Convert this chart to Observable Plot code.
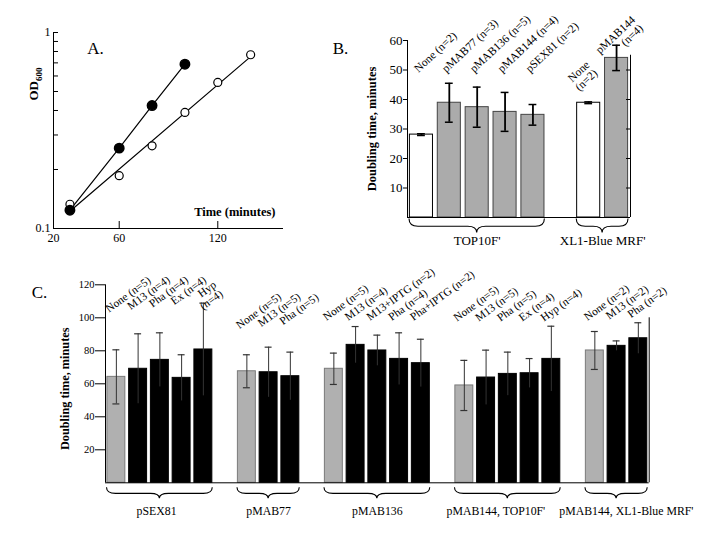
<!DOCTYPE html>
<html>
<head>
<meta charset="utf-8">
<script src="https://cdn.jsdelivr.net/npm/d3@7"></script>
<script src="https://cdn.jsdelivr.net/npm/@observablehq/plot@0.6"></script>
<style>
  html, body { margin: 0; padding: 0; background: #fff; }
  #fig { position: relative; width: 708px; height: 534px; overflow: hidden; background: #fff; }
  #fig svg { position: absolute; max-width: none; }
</style>
</head>
<body>
<div id="fig"></div>
<script>
// ---------------- DATA ----------------
// Panel A: growth curves (OD600 vs time)
const aTimeFilled = [30, 60, 80, 100];
const aOdFilled   = [0.124, 0.257, 0.424, 0.689];
const aTimeOpen   = [30, 60, 80, 100, 120, 140];
const aOdOpen     = [0.133, 0.186, 0.264, 0.391, 0.556, 0.770];
const aXTicks     = [20, 60, 120];
const aYTicks     = [0.1, 0.2, 0.3, 0.4, 0.5, 0.6, 0.7, 0.8, 0.9, 1];
const aYLabeled   = [0.1, 1];

// Panel B: doubling times by strain / plasmid
const bStrain  = ["TOP10F'", "TOP10F'", "TOP10F'", "TOP10F'", "TOP10F'", "XL1-Blue MRF'", "XL1-Blue MRF'"];
const bPlasmid = ["None", "pMAB77", "pMAB136", "pMAB144", "pSEX81", "None", "pMAB144"];
const bLabel   = ["None (n=2)", "pMAB77 (n=3)", "pMAB136 (n=5)", "pMAB144 (n=4)", "pSEX81 (n=2)", "None\n(n=2)", "pMAB144\n(n=4)"];
const bMean    = [28.1, 38.9, 37.4, 35.8, 34.8, 38.9, 54.1];
const bErr     = [0.3, 6.6, 6.8, 6.6, 3.5, 0.3, 4.3];
const bYTicks  = [10, 20, 30, 40, 50, 60];

// Panel C: doubling times by plasmid / phage
const cGroup = ["pSEX81", "pSEX81", "pSEX81", "pSEX81", "pSEX81",
                "pMAB77", "pMAB77", "pMAB77",
                "pMAB136", "pMAB136", "pMAB136", "pMAB136", "pMAB136",
                "pMAB144, TOP10F'", "pMAB144, TOP10F'", "pMAB144, TOP10F'", "pMAB144, TOP10F'", "pMAB144, TOP10F'",
                "pMAB144, XL1-Blue MRF'", "pMAB144, XL1-Blue MRF'", "pMAB144, XL1-Blue MRF'"];
const cPhage = ["None", "M13", "Pha", "Ex", "Hyp",
                "None", "M13", "Pha",
                "None", "M13", "M13+IPTG", "Pha", "Pha+IPTG",
                "None", "M13", "Pha", "Ex", "Hyp",
                "None", "M13", "Pha"];
const cLabel = ["None (n=5)", "M13 (n=4)", "Pha (n=4)", "Ex (n=4)", "Hyp\n(n=4)",
                "None (n=5)", "M13 (n=5)", "Pha (n=5)",
                "None (n=5)", "M13 (n=4)", "M13+IPTG (n=2)", "Pha (n=4)", "Pha+IPTG (n=2)",
                "None (n=5)", "M13 (n=5)", "Pha (n=5)", "Ex (n=4)", "Hyp (n=4)",
                "None (n=2)", "M13 (n=2)", "Pha (n=2)"];
const cMean = [64.2, 69.1, 74.5, 63.6, 80.8,
               67.6, 67.0, 64.6,
               69.1, 83.6, 80.2, 75.1, 72.5,
               59.0, 63.8, 66.0, 66.4, 75.1,
               80.2, 83.0, 87.6];
const cErr  = [16.4, 21.2, 16.4, 14.0, 28.1,
               10.0, 15.2, 14.6,
               9.5, 11.1, 9.3, 15.8, 14.5,
               15.2, 16.6, 13.2, 8.9, 19.8,
               11.5, 3.0, 9.4];
const cYTicks = [20, 40, 60, 80, 100, 120];

// ---------------- HELPERS ----------------
const FONT = "'Liberation Serif', 'Times New Roman', serif";
const baseStyle = {fontFamily: FONT, color: "black", background: "transparent", overflow: "visible"};

// Assign consecutive slots to bars, leaving one empty slot between groups
function layout(items) {
  const groups = [...new Set(items.map(d => d.group))];
  let slot = 0;
  const rows = [], spans = [];
  groups.forEach((g, gi) => {
    if (gi > 0) slot += 1;
    const start = slot;
    items.filter(d => d.group === g).forEach((d, k) => { rows.push({...d, slot, k}); slot += 1; });
    spans.push({group: g, start, end: slot});
  });
  return {rows, spans, n: slot};
}

function bracePath(x1, x2, y0, h) {
  const mid = (x1 + x2) / 2, r = Math.min(9, (x2 - x1) / 5), ym = y0 + h * 0.55, yt = y0 + h;
  return `M${x1},${y0} Q${x1},${ym} ${x1 + r},${ym} L${mid - r},${ym} Q${mid},${ym} ${mid},${yt}` +
         ` Q${mid},${ym} ${mid + r},${ym} L${x2 - r},${ym} Q${x2},${ym} ${x2},${y0}`;
}

// custom render mark drawing braces under each group
function braces(spans, offset, h, inset) {
  return (index, scales, values, dims) => {
    const g = d3.create("svg:g");
    const y0 = dims.height - dims.marginBottom + offset;
    for (const s of spans) {
      const x1 = scales.x(s.start) + inset, x2 = scales.x(s.end) - inset;
      g.append("path").attr("d", bracePath(x1, x2, y0, h))
        .attr("fill", "none").attr("stroke", "black").attr("stroke-width", 1.1);
    }
    return g.node();
  };
}

function place(svg, left, top) {
  svg.style.left = left + "px";
  svg.style.top = top + "px";
  document.getElementById("fig").appendChild(svg);
}

const isMulti = d => d.label.includes("\n");

// ---------------- PANEL A ----------------
const filled = aTimeFilled.map((t, i) => ({t, od: aOdFilled[i]}));
const open = aTimeOpen.map((t, i) => ({t, od: aOdOpen[i]}));
// least-squares fit of log10(OD) vs time for the open series
const lx = aTimeOpen, ly = aOdOpen.map(Math.log10);
const mx = d3.mean(lx), my = d3.mean(ly);
const slope = d3.sum(lx, (x, i) => (x - mx) * (ly[i] - my)) / d3.sum(lx, x => (x - mx) ** 2);
const fit = d3.extent(lx).map(t => ({t, od: 10 ** (my + slope * (t - mx))}));

const aW = 300, aH = 250, aML = 53, aMR = 17, aMT = 32, aMB = 22;
const plotA = Plot.plot({
  width: aW, height: aH, marginLeft: aML, marginRight: aMR, marginTop: aMT, marginBottom: aMB,
  x: {domain: [20, 160], axis: null},
  y: {type: "log", domain: [0.1, 1], axis: null},
  style: {...baseStyle, fontSize: "12px"},
  marks: [
    Plot.ruleX([20]),
    Plot.ruleY([0.1]),
    Plot.tickY(aYTicks, {y: d => d, insetRight: (aW - aML - aMR) - 5}),
    Plot.tickX(aXTicks.filter(t => t > 20), {x: d => d, insetTop: (aH - aMT - aMB) - 7}),
    Plot.axisY({ticks: aYTicks, tickSize: 0, tickPadding: 3, label: null, fontSize: 12,
                tickFormat: d => aYLabeled.includes(d) ? String(d) : ""}),
    Plot.axisX({ticks: aXTicks, tickSize: 0, tickPadding: 5, label: null, fontSize: 12}),
    Plot.line(fit, {x: "t", y: "od", strokeWidth: 1.2}),
    Plot.line(filled, {x: "t", y: "od", strokeWidth: 1.2}),
    Plot.dot(open, {x: "t", y: "od", r: 4, fill: "white", stroke: "black", strokeWidth: 1.2}),
    Plot.dot(filled, {x: "t", y: "od", r: 4.7, fill: "black", stroke: "black"}),
    Plot.text(["A."], {text: d => d, frameAnchor: "top-left", dx: 42, dy: 16, fontSize: 17,
                       textAnchor: "middle", lineAnchor: "middle"}),
    Plot.text(["Time (minutes)"], {text: d => d, frameAnchor: "bottom-right", dx: -8, dy: -16.5,
                                   textAnchor: "end", lineAnchor: "middle", fontWeight: "bold", fontSize: 12.5})
  ]
});
{
  const t = d3.select(plotA).append("text")
    .attr("transform", "translate(37.5,84) rotate(-90)")
    .attr("text-anchor", "middle").attr("font-weight", "bold").attr("font-size", 13)
    .attr("font-family", FONT).attr("fill", "black");
  t.append("tspan").text("OD");
  t.append("tspan").attr("font-size", 9).attr("dy", 4).text("600");
}
place(plotA, 0, 0);

// ---------------- PANEL B ----------------
const bItems = bPlasmid.map((p, i) => ({group: bStrain[i], plasmid: p, label: bLabel[i], mean: bMean[i], err: bErr[i]}));
const B = layout(bItems);
const bW = 360, bH = 250, bML = 107, bMR = 30, bMT = 40, bMB = 33;
const bFrameW = bW - bML - bMR;
const bMultiShift = {"None": -0.14, "pMAB144": 0.5};   // label nudges (slot units)
const plotB = Plot.plot({
  width: bW, height: bH, marginLeft: bML, marginRight: bMR, marginTop: bMT, marginBottom: bMB,
  x: {domain: [0, B.n], axis: null},
  y: {domain: [0, 60], axis: null},
  style: {...baseStyle, fontSize: "13px"},
  marks: [
    Plot.rect(B.rows, {x1: "slot", x2: d => d.slot + 1, y1: 0, y2: "mean", insetLeft: 2.4, insetRight: 2.4,
                       fill: d => d.plasmid === "None" ? "white" : "#ababab",
                       stroke: d => d.plasmid === "None" ? "black" : "#444", strokeWidth: 1}),
    Plot.ruleX(B.rows, {x: d => d.slot + 0.5, y1: d => d.mean - d.err, y2: d => d.mean + d.err, strokeWidth: 1.8}),
    Plot.ruleY(B.rows, {y: d => d.mean + d.err, x1: d => d.slot + 0.36, x2: d => d.slot + 0.64, strokeWidth: 1.5}),
    Plot.ruleY(B.rows, {y: d => d.mean - d.err, x1: d => d.slot + 0.36, x2: d => d.slot + 0.64, strokeWidth: 1.5}),
    Plot.ruleX([0]),
    Plot.ruleY([0]),
    Plot.ruleX([B.n], {y1: 0, y2: 55}),
    Plot.tickY(bYTicks.filter(t => t < 60), {y: d => d, insetLeft: bFrameW - 4}),
    Plot.axisY({ticks: bYTicks, tickSize: 4, tickPadding: 1, label: null, fontSize: 13}),
    Plot.text(B.rows.filter(d => !isMulti(d)), {x: d => d.slot + 0.5, y: 51, text: "label",
              rotate: -43, textAnchor: "start", lineAnchor: "top", dx: -8.6, fontSize: 11.5}),
    Plot.text(B.rows.filter(isMulti), {x: d => d.slot + 0.5 + (bMultiShift[d.plasmid] ?? 0), y: d => d.mean + 14.6,
              text: "label", rotate: -43, textAnchor: "end", lineAnchor: "top", fontSize: 11.5}),
    braces(B.spans, 1.5, 14, 2),
    Plot.text(B.spans, {x: d => (d.start + d.end) / 2, frameAnchor: "bottom", dy: 23, text: "group",
                        textAnchor: "middle", lineAnchor: "middle", fontSize: 13}),
    Plot.text(["B."], {text: d => d, frameAnchor: "top-left", dx: -67, dy: 8, fontSize: 17,
                       textAnchor: "middle", lineAnchor: "middle"}),
    Plot.text(["Doubling time, minutes"], {text: d => d, frameAnchor: "left", rotate: -90, dx: -35.5,
                                           textAnchor: "middle", fontWeight: "bold", fontSize: 12.5, lineAnchor: "middle"})
  ]
});
place(plotB, 300, 0);

// ---------------- PANEL C ----------------
const cItems = cPhage.map((p, i) => ({group: cGroup[i], phage: p, label: cLabel[i], mean: cMean[i], err: cErr[i]}));
const C = layout(cItems);
// label baseline level and per-bar rise within each group (styling)
const cLabelLevel = {"pSEX81": 107, "pMAB77": 97, "pMAB136": 102, "pMAB144, TOP10F'": 101.5, "pMAB144, XL1-Blue MRF'": 102};
const cLabelRise  = {"pSEX81": 1.5, "pMAB77": 1.2, "pMAB136": 0, "pMAB144, TOP10F'": 0, "pMAB144, XL1-Blue MRF'": 0.8};
const cGroupShift = {"pSEX81": -0.15, "pMAB144, TOP10F'": -0.55, "pMAB144, XL1-Blue MRF'": 0.45};
const cLevel = d => cLabelLevel[d.group] + cLabelRise[d.group] * d.k;
const cW = 708, cH = 284, cML = 105, cMR = 59.3, cMT = 34.3, cMB = 51.7;
const plotC = Plot.plot({
  width: cW, height: cH, marginLeft: cML, marginRight: cMR, marginTop: cMT, marginBottom: cMB,
  x: {domain: [0, C.n], axis: null},
  y: {domain: [0, 120], axis: null},
  style: {...baseStyle, fontSize: "11px"},
  marks: [
    Plot.rect(C.rows, {x1: "slot", x2: d => d.slot + 1, y1: 0, y2: "mean", insetLeft: 1.9, insetRight: 1.9,
                       fill: d => d.phage === "None" ? "#b0b0b0" : "black",
                       stroke: d => d.phage === "None" ? "#7a7a7a" : "black", strokeWidth: 1}),
    Plot.ruleX(C.rows, {x: d => d.slot + 0.5, y1: d => d.mean - d.err, y2: d => d.mean + d.err, stroke: "#333", strokeWidth: 1}),
    Plot.ruleY(C.rows, {y: d => d.mean + d.err, x1: d => d.slot + 0.34, x2: d => d.slot + 0.66, stroke: "#333", strokeWidth: 1.2}),
    Plot.ruleY(C.rows.filter(d => d.phage === "None"), {y: d => d.mean - d.err, x1: d => d.slot + 0.34, x2: d => d.slot + 0.66, stroke: "#333", strokeWidth: 1.2}),
    Plot.ruleX([0]),
    Plot.ruleY([0]),
    Plot.ruleX([C.n], {y1: 0, y2: 100}),
    Plot.axisY({ticks: cYTicks, tickSize: 10, tickPadding: 1, label: null, fontSize: 10.5}),
    Plot.text(C.rows.filter(d => !isMulti(d)), {x: d => d.slot + 0.5, y: cLevel, text: "label",
                       rotate: -36, textAnchor: "start", lineAnchor: "top", dx: -12, fontSize: 11.3}),
    Plot.text(C.rows.filter(isMulti), {x: d => d.slot + 0.5, y: d => cLevel(d) + 10, text: "label",
                       rotate: -36, textAnchor: "end", lineAnchor: "top", dx: 9, fontSize: 11.3}),
    braces(C.spans, 5, 11, 1.5),
    Plot.text(C.spans, {x: d => (d.start + d.end) / 2 + (cGroupShift[d.group] ?? 0), frameAnchor: "bottom", dy: 28, text: "group",
                        textAnchor: "middle", lineAnchor: "middle", fontSize: 11.8}),
    Plot.text(["C."], {text: d => d, frameAnchor: "top-left", dx: -66, dy: 8, fontSize: 17,
                       textAnchor: "middle", lineAnchor: "middle"}),
    Plot.text(["Doubling time, minutes"], {text: d => d, frameAnchor: "left", rotate: -90, dx: -40, dy: 5,
                                           textAnchor: "middle", fontWeight: "bold", fontSize: 12.3, lineAnchor: "middle"})
  ]
});
place(plotC, 0, 250);
</script>
</body>
</html>
